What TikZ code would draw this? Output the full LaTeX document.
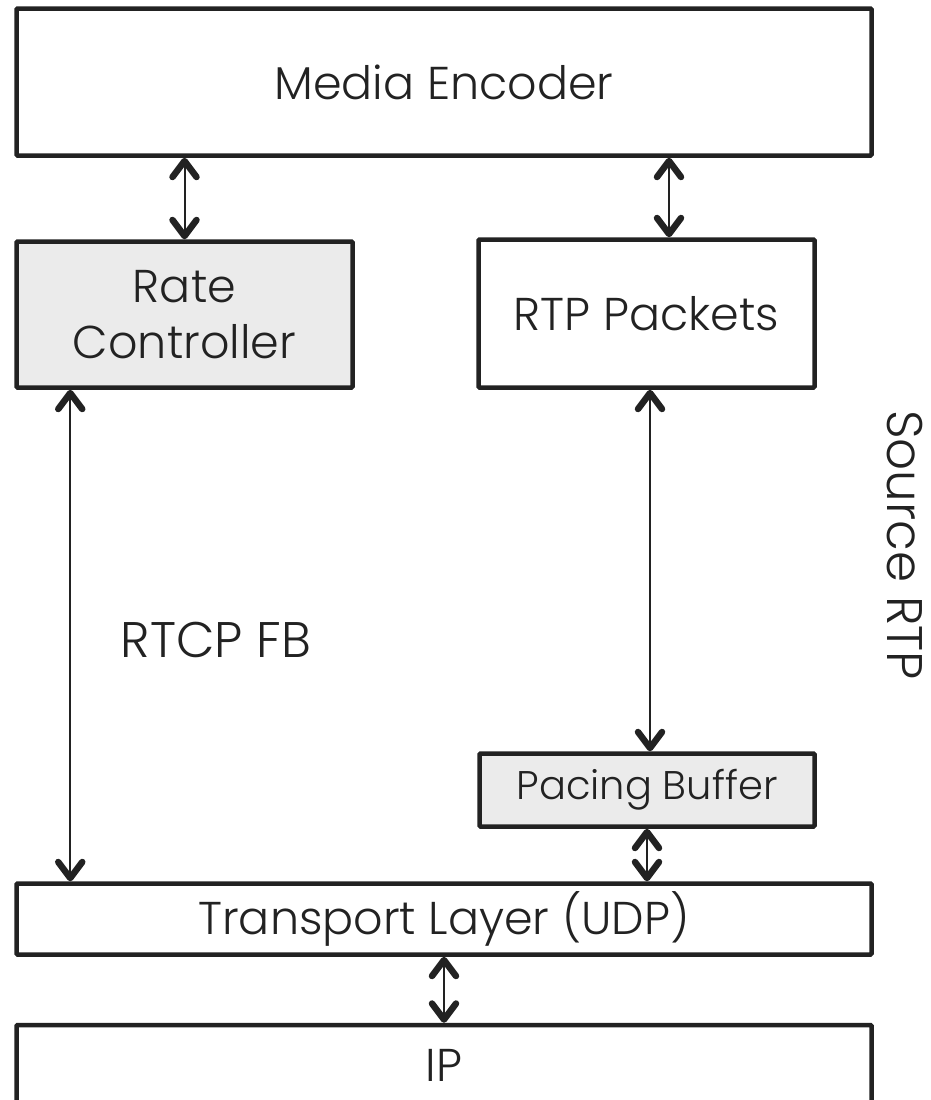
\documentclass[tikz,border=0pt]{standalone}
\usepackage{fontspec}
\setmainfont{Poppins}[UprightFont=* Light]
\usetikzlibrary{arrows.meta}
\definecolor{ink}{HTML}{222222}
\definecolor{boxgray}{HTML}{EBEBEB}
\tikzset{mytip/.tip={Straight Barb[length=16pt,width=24pt,line width=6.5pt,round]}}
\begin{document}
\begin{tikzpicture}[x=1pt,y=-1pt,
  blk/.style={draw=ink,line width=4.5pt,rounded corners=1pt,inner sep=0pt,text=ink,
    font=\fontsize{46}{56}\selectfont,align=center},
  grayblk/.style={blk,fill=boxgray},
  dar/.style={draw=ink,line width=2pt,{mytip}-{mytip}},
  lbl/.style={text=ink,font=\fontsize{50}{56}\selectfont,inner sep=0pt}]
\useasboundingbox (0,0) rectangle (930,1100);
\node[blk,minimum width=855pt,minimum height=147pt] (ME) at (444,82) {Media Encoder};
\node[grayblk,minimum width=336pt,minimum height=146pt] (RC) at (184.5,314.5) {Rate\\Controller};
\node[blk,minimum width=336pt,minimum height=148pt] (RTP) at (646.5,313.5) {RTP Packets};
\node[grayblk,minimum width=335pt,minimum height=73pt,font=\fontsize{40}{44}\selectfont] (PB) at (647,790) {Pacing Buffer};
\node[blk,minimum width=855pt,minimum height=71pt] (TL) at (444,919) {Transport Layer (UDP)};
\node[blk,minimum width=855pt,minimum height=80pt] (IP) at (444,1065) {IP};
\node[lbl] (FB) at (216,640) {RTCP FB};
\node[lbl,rotate=-90] (SRC) at (905,545) {Source RTP};
\draw[dar] (RC.north) -- (RC.north |- ME.south);
\draw[dar] ([xshift=22.5pt]RTP.north) -- ([xshift=22.5pt]RTP.north |- ME.south);
\draw[dar] ([xshift=56pt]RC.south west) -- ([xshift=56pt]RC.south west |- TL.north);
\draw[dar] ([xshift=3.5pt]RTP.south) -- ([xshift=3.5pt]RTP.south |- PB.north);
\draw[dar] (PB.south) -- (PB.south |- TL.north);
\draw[dar] (TL.south) -- (IP.north);
\end{tikzpicture}
\end{document}
